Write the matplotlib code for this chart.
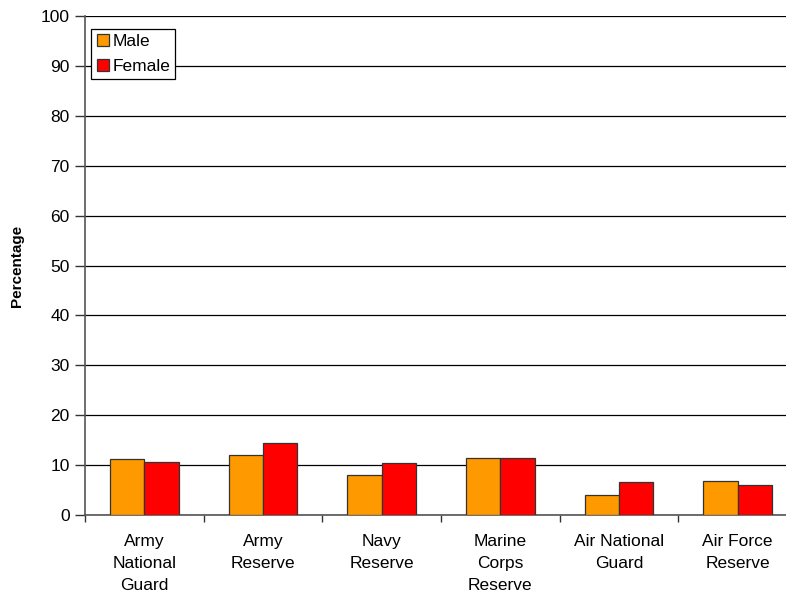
import matplotlib.pyplot as plt
import numpy as np

plt.rcParams['font.family'] = ['Liberation Sans', 'DejaVu Sans']

categories = ['Army\nNational\nGuard', 'Army\nReserve', 'Navy\nReserve',
              'Marine\nCorps\nReserve', 'Air National\nGuard', 'Air Force\nReserve']
male = [11.2, 12.0, 8.0, 11.5, 4.1, 6.9]
female = [10.6, 14.5, 10.4, 11.5, 6.7, 6.1]

fig = plt.figure(figsize=(7.86, 5.99), dpi=100)
# plot area runs slightly past the right edge of the picture, like the original
ax = fig.add_axes([85/786, 84/599, 712/786, 499/599])

x = np.arange(len(categories))
w = 0.29
ax.bar(x - w/2, male, w, color='#FF9900', edgecolor='#333333', linewidth=0.9, label='Male', zorder=3)
ax.bar(x + w/2, female, w, color='#FF0000', edgecolor='#333333', linewidth=0.9, label='Female', zorder=3)

ax.set_xlim(-0.5, len(categories) - 0.5)
ax.set_ylim(0, 100)
ax.set_yticks(np.arange(0, 101, 10))
ax.yaxis.grid(True, color='black', linewidth=0.9)
ax.set_axisbelow(True)

ax.set_xticks(x)
ax.set_xticklabels(categories, fontsize=12.5, linespacing=1.55)
ax.tick_params(axis='x', which='major', length=0, pad=14)
ax.set_xticks(np.arange(-0.5, len(categories)), minor=True)
ax.tick_params(axis='x', which='minor', length=5, width=1, color='#333333')
ax.tick_params(axis='y', labelsize=12.5, length=7, width=1, color='#333333', pad=4)

for s in ['top', 'right']:
    ax.spines[s].set_visible(False)
for s in ['left', 'bottom']:
    ax.spines[s].set_color('#555555')
    ax.spines[s].set_linewidth(1.2)

ax.set_ylabel('Percentage', fontsize=11, fontweight='bold', labelpad=12)

leg = ax.legend(loc='upper left', bbox_to_anchor=(0.009, 0.974), fontsize=12.5,
                frameon=True, fancybox=False, edgecolor='black', framealpha=1,
                handlelength=0.7, handleheight=0.7, handletextpad=0.2,
                borderpad=0.3, labelspacing=0.55, borderaxespad=0)
leg.get_frame().set_linewidth(0.9)

fig.savefig('out.png', dpi=100)
